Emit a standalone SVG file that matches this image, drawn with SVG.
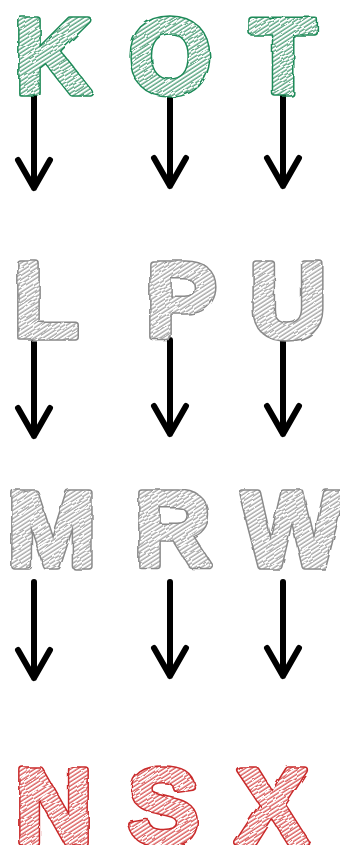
<svg xmlns="http://www.w3.org/2000/svg" width="340" height="845" viewBox="0 0 340 845">
<defs>
<pattern id="hg" patternUnits="userSpaceOnUse" width="3.5" height="3.5" patternTransform="rotate(-33)"><rect width="3.5" height="3.5" fill="#ffffff"/><line x1="0" y1="1" x2="3.5" y2="1" stroke="#2a8a5c" stroke-width="1.1"/></pattern>
<pattern id="hy" patternUnits="userSpaceOnUse" width="3.5" height="3.5" patternTransform="rotate(-33)"><rect width="3.5" height="3.5" fill="#ffffff"/><line x1="0" y1="1" x2="3.5" y2="1" stroke="#8e8e8e" stroke-width="1.1"/></pattern>
<pattern id="hr" patternUnits="userSpaceOnUse" width="3.5" height="3.5" patternTransform="rotate(-33)"><rect width="3.5" height="3.5" fill="#ffffff"/><line x1="0" y1="1" x2="3.5" y2="1" stroke="#d03030" stroke-width="1.1"/></pattern>
<filter id="rough" x="-10%" y="-10%" width="120%" height="120%"><feTurbulence type="fractalNoise" baseFrequency="0.07" numOctaves="2" seed="5"/><feDisplacementMap in="SourceGraphic" scale="4"/></filter>
<text id="tK" class="l" x="53" y="93">K</text>
<text id="tO" class="l" x="170" y="93">O</text>
<text id="tT" class="l" x="283" y="93">T</text>
<text id="tL" class="l" x="46" y="337">L</text>
<text id="tP" class="l" x="181" y="337">P</text>
<text id="tU" class="l" x="288" y="337">U</text>
<text id="tM" class="l" x="52" y="566">M</text>
<text id="tR" class="l" x="173" y="566">R</text>
<text id="tW" class="l" x="292" y="566">W</text>
<text id="tN" class="l" x="54" y="843">N</text>
<text id="tS" class="l" x="163" y="843">S</text>
<text id="tX" class="l" x="272" y="843">X</text>
</defs>
<style>
.l{font-family:"Liberation Sans",Arial,sans-serif;font-weight:bold;font-size:106px;text-anchor:middle}
use{filter:url(#rough);stroke-linejoin:round}
.o{stroke-width:7.5}
.f{stroke-width:4.5}
.og{fill:#1f8a58;stroke:#1f8a58}
.fg{fill:url(#hg);stroke:url(#hg)}
.oy{fill:#8a8a8a;stroke:#8a8a8a}
.fy{fill:url(#hy);stroke:url(#hy)}
.or{fill:#c92a2a;stroke:#c92a2a}
.fr{fill:url(#hr);stroke:url(#hr)}
.a{fill:none;stroke:#000;stroke-width:6;stroke-linecap:round;stroke-linejoin:round}
</style>
<g id="connectors">
<path class="a" d="M34,93V188M18,160L34,188L50,160"/>
<path class="a" d="M170,92V186M154,158L170,186L186,158"/>
<path class="a" d="M283,92V186M267,158L283,186L299,158"/>
<path class="a" d="M34,342V436M18,408L34,436L50,408"/>
<path class="a" d="M170,340V434M154,406L170,434L186,406"/>
<path class="a" d="M283,340V434M267,406L283,434L299,406"/>
<path class="a" d="M34,582V678M18,650L34,678L50,650"/>
<path class="a" d="M170,582V676M154,648L170,676L186,648"/>
<path class="a" d="M283,582V676M267,648L283,676L299,648"/>
</g>
<g id="K"><use href="#tK" class="o og"/><use href="#tK" class="f fg"/></g>
<g id="O"><use href="#tO" class="o og"/><use href="#tO" class="f fg"/></g>
<g id="T"><use href="#tT" class="o og"/><use href="#tT" class="f fg"/></g>
<g id="L"><use href="#tL" class="o oy"/><use href="#tL" class="f fy"/></g>
<g id="P"><use href="#tP" class="o oy"/><use href="#tP" class="f fy"/></g>
<g id="U"><use href="#tU" class="o oy"/><use href="#tU" class="f fy"/></g>
<g id="M"><use href="#tM" class="o oy"/><use href="#tM" class="f fy"/></g>
<g id="R"><use href="#tR" class="o oy"/><use href="#tR" class="f fy"/></g>
<g id="W"><use href="#tW" class="o oy"/><use href="#tW" class="f fy"/></g>
<g id="N"><use href="#tN" class="o or"/><use href="#tN" class="f fr"/></g>
<g id="S"><use href="#tS" class="o or"/><use href="#tS" class="f fr"/></g>
<g id="X"><use href="#tX" class="o or"/><use href="#tX" class="f fr"/></g>
</svg>
